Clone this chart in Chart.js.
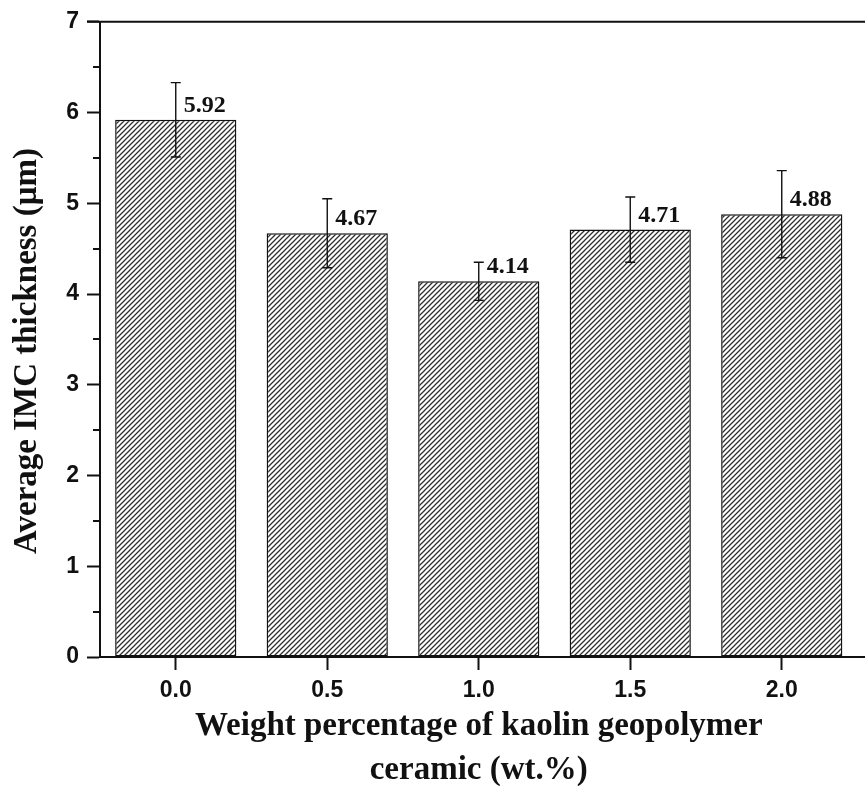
<!DOCTYPE html>
<html>
<head>
<meta charset="utf-8">
<title>Average IMC thickness</title>
<script src="https://cdn.jsdelivr.net/npm/chart.js@4.4.1/dist/chart.umd.min.js"></script>
<style>
    html, body { margin: 0; padding: 0; background: #fff; overflow: hidden; }
    #grafico { display: block; }
</style>
</head>
<body>
<canvas id="grafico" width="865" height="792"></canvas>
<script>
// Dados do gráfico
const categories = ['0.0', '0.5', '1.0', '1.5', '2.0'];
const thickness = [5.92, 4.67, 4.14, 4.71, 4.88];
const errors = [0.41, 0.38, 0.21, 0.36, 0.48];
const yMin = 0;
const yMax = 7;
const yStep = 1;
const yMinorStep = 0.5;
const yTitle = 'Average IMC thickness (\u03bcm)';
const xTitle = ['Weight percentage of kaolin geopolymer', 'ceramic (wt.%)'];

const serif = '"Liberation Serif", "Times New Roman", serif';
const sans = '"Liberation Sans", Arial, sans-serif';

// Padrão de hachura diagonal para as barras
function hatchPattern() {
    const size = 5;
    const c = document.createElement('canvas');
    c.width = size;
    c.height = size;
    const g = c.getContext('2d');
    g.fillStyle = '#fff';
    g.fillRect(0, 0, size, size);
    g.strokeStyle = '#2e2e2e';
    g.lineWidth = 1.25;
    g.beginPath();
    g.moveTo(-1, size + 1);
    g.lineTo(size + 1, -1);
    g.moveTo(-1, 1);
    g.lineTo(1, -1);
    g.moveTo(size - 1, size + 1);
    g.lineTo(size + 1, size - 1);
    g.stroke();
    return g.createPattern(c, 'repeat');
}

// Barras de erro, marcas menores do eixo y, linha superior, rótulos de valor e título do eixo y
const extrasPlugin = {
    id: 'extras',
    afterDatasetsDraw(chart) {
        const ctx = chart.ctx;
        const y = chart.scales.y;
        const area = chart.chartArea;
        const meta = chart.getDatasetMeta(0);

        ctx.save();
        // linhas do topo e da base até a borda da figura
        ctx.strokeStyle = '#111';
        ctx.lineWidth = 2;
        ctx.beginPath();
        ctx.moveTo(area.left - 13, area.top);
        ctx.lineTo(chart.width, area.top);
        ctx.moveTo(area.right - 2, area.bottom);
        ctx.lineTo(chart.width, area.bottom);
        ctx.stroke();

        // marcas menores
        ctx.beginPath();
        for (let v = yMin + yMinorStep; v < yMax; v += yStep) {
            const py = Math.round(y.getPixelForValue(v));
            ctx.moveTo(area.left, py);
            ctx.lineTo(area.left - 7, py);
        }
        ctx.stroke();

        // barras de erro
        ctx.lineWidth = 1.4;
        thickness.forEach((val, i) => {
            const px = meta.data[i].x;
            const top = y.getPixelForValue(val + errors[i]);
            const bot = y.getPixelForValue(val - errors[i]);
            ctx.beginPath();
            ctx.moveTo(px, top);
            ctx.lineTo(px, bot);
            ctx.moveTo(px - 5, top);
            ctx.lineTo(px + 5, top);
            ctx.moveTo(px - 5, bot);
            ctx.lineTo(px + 5, bot);
            ctx.stroke();
        });

        // rótulos com os valores
        ctx.fillStyle = '#111';
        ctx.font = 'bold 24px ' + serif;
        ctx.textAlign = 'left';
        ctx.textBaseline = 'alphabetic';
        thickness.forEach((val, i) => {
            const px = meta.data[i].x;
            const py = y.getPixelForValue(val);
            ctx.fillText(val.toFixed(2), px + 8, py - 8);
        });

        // título do eixo y
        ctx.font = 'bold 33px ' + serif;
        ctx.textAlign = 'center';
        ctx.textBaseline = 'middle';
        ctx.translate(27, 351);
        ctx.rotate(-Math.PI / 2);
        ctx.fillText(yTitle, 0, 0);
        ctx.restore();
    }
};

const ctx = document.getElementById('grafico').getContext('2d');

new Chart(ctx, {
    type: 'bar',
    data: {
        labels: categories,
        datasets: [{
            data: thickness,
            backgroundColor: hatchPattern(),
            borderColor: '#111',
            borderWidth: 1.5,
            borderSkipped: false,
            barPercentage: 1,
            categoryPercentage: 0.8
        }]
    },
    options: {
        responsive: false,
        animation: false,
        events: [],
        layout: { padding: { top: 20, right: 7.5, left: 0, bottom: 0 } },
        plugins: {
            legend: { display: false },
            tooltip: { enabled: false }
        },
        scales: {
            x: {
                offset: true,
                afterFit(scale) { scale.height = 135; },
                grid: {
                    drawOnChartArea: false,
                    offset: false,
                    tickLength: 13,
                    tickWidth: 2,
                    tickColor: '#111',
                    color: '#111'
                },
                border: { display: true, color: '#111', width: 2 },
                ticks: {
                    color: '#111',
                    padding: 7,
                    font: { family: sans, size: 23, weight: 'bold' }
                },
                title: {
                    display: true,
                    text: xTitle,
                    color: '#111',
                    font: { family: serif, size: 33, weight: 'bold', lineHeight: 1.33 },
                    padding: { top: 0, bottom: 0 }
                }
            },
            y: {
                min: yMin,
                max: yMax,
                afterFit(scale) { scale.width = 100; },
                grid: {
                    drawOnChartArea: false,
                    tickLength: 13,
                    tickWidth: 2,
                    tickColor: '#111'
                },
                border: { display: true, color: '#111', width: 2 },
                ticks: {
                    stepSize: yStep,
                    color: '#111',
                    padding: 8,
                    font: { family: sans, size: 23, weight: 'bold' }
                },
                title: { display: false }
            }
        }
    },
    plugins: [extrasPlugin]
});
</script>
</body>
</html>
